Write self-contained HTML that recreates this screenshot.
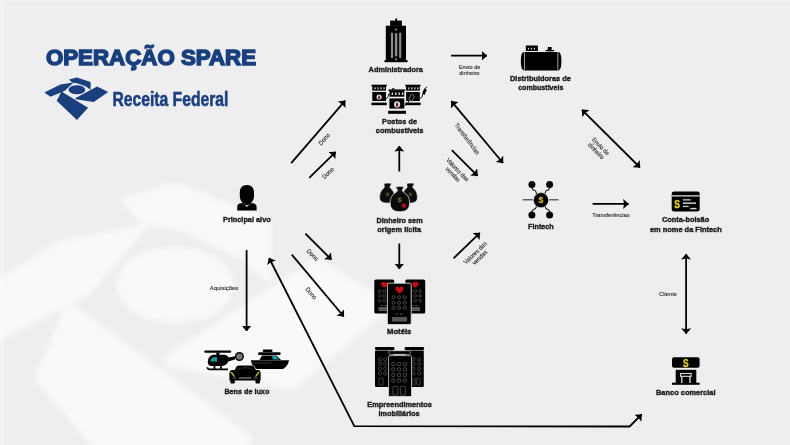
<!DOCTYPE html>
<html><head><meta charset="utf-8">
<style>
html,body{margin:0;padding:0;width:790px;height:445px;overflow:hidden;background:#eeeef0;}
svg{position:absolute;left:0;top:0;will-change:transform;}
text{font-family:"Liberation Sans",sans-serif;}
.b{font-weight:bold;fill:#1e1e1e;stroke:#1e1e1e;stroke-width:0.42px;font-size:7.9px;}
.s{fill:#2a2a2a;stroke:#2a2a2a;stroke-width:0.12px;font-size:6.2px;}
</style></head><body>
<svg width="790" height="445" viewBox="0 0 790 445">
<defs>
<marker id="ah" viewBox="0 0 5.8 10" refX="5.5" refY="5" markerWidth="5.8" markerHeight="10" orient="auto-start-reverse" markerUnits="userSpaceOnUse">
<path d="M0,0 L5.8,5 L0,10 L0.9,5 z" fill="#000"/>
</marker>
</defs>
<!-- watermark -->
<filter id="blur" x="-20%" y="-20%" width="140%" height="140%"><feGaussianBlur stdDeviation="2.5"/></filter>
<g id="wm" fill="#ffffff" opacity="0.62" filter="url(#blur)">
<g transform="translate(175.5,285) scale(7,8.5) translate(-76.9,-89.7)">
<polygon points="44.3,92.6 60.5,84.4 73.5,82.4 64.5,90.9 50.5,96.7"/>
<polygon points="69,79.6 76.9,77.6 90.6,82.1 90.6,89.7 86,86.5 78,83.5 72,82.5"/>
<ellipse cx="76.9" cy="89.7" rx="8.4" ry="4.5"/>
<polygon points="75.2,98.2 97.1,86.4 108.3,92 93.7,102.1 75.7,99.3"/>
<polygon points="56.7,100.7 61.5,91.5 88.1,107.7 76.9,120.1"/>
</g>
</g>

<rect x="1.2" y="0" width="2" height="445" fill="#fff" opacity="0.4"/>
<rect x="0" y="0" width="790" height="1.5" fill="#fff" opacity="0.25"/>
<!-- title -->
<text x="45.9" y="64.6" textLength="210.2" lengthAdjust="spacingAndGlyphs" style="font-family:'Liberation Sans';font-weight:bold;font-size:21.8px;fill:#193f7e;stroke:#193f7e;stroke-width:1.5px">OPERAÇÃO SPARE</text>
<text x="112.4" y="106" textLength="116" lengthAdjust="spacingAndGlyphs" style="font-family:'Liberation Sans';font-weight:bold;font-size:20.5px;fill:#193f7e;stroke:#193f7e;stroke-width:0.55px">Receita Federal</text>
<g fill="#193f7e">
<polygon points="44.3,92.6 60.5,84.4 73.5,82.4 64.5,90.9 50.5,96.7"/>
<polygon points="69,79.6 76.9,77.6 90.6,82.1 90.6,89.7 86,86.5 78,83.5 72,82.5"/>
<ellipse cx="76.9" cy="89.7" rx="8.4" ry="4.5"/>
<polygon points="75.2,98.2 97.1,86.4 108.3,92 93.7,102.1 75.7,99.3"/>
<polygon points="56.7,100.7 61.5,91.5 88.1,107.7 76.9,120.1"/>
</g>

<!-- labels -->
<text class="b" x="368.6" y="71.8" textLength="54.3" lengthAdjust="spacingAndGlyphs">Administradora</text>
<text class="b" x="382" y="124" textLength="35" lengthAdjust="spacingAndGlyphs">Postos de</text>
<text class="b" x="375.8" y="133.4" textLength="47.7" lengthAdjust="spacingAndGlyphs">combustíveis</text>
<text class="b" x="510" y="80.5" textLength="60.9" lengthAdjust="spacingAndGlyphs">Distribuidoras de</text>
<text class="b" x="518.2" y="90" textLength="45.2" lengthAdjust="spacingAndGlyphs">combustiveis</text>
<text class="b" x="223" y="222" textLength="47.7" lengthAdjust="spacingAndGlyphs">Principal alvo</text>
<text class="b" x="376.6" y="223.2" textLength="46" lengthAdjust="spacingAndGlyphs">Dinheiro sem</text>
<text class="b" x="377.3" y="232" textLength="43.8" lengthAdjust="spacingAndGlyphs">origem lícita</text>
<text class="b" x="528" y="229" textLength="25.8" lengthAdjust="spacingAndGlyphs">Fintech</text>
<text class="b" x="662" y="222" textLength="47.2" lengthAdjust="spacingAndGlyphs">Conta-bolsão</text>
<text class="b" x="649.9" y="232.3" textLength="71.9" lengthAdjust="spacingAndGlyphs">em nome da Fintech</text>
<text class="b" x="387" y="333.7" textLength="24.4" lengthAdjust="spacingAndGlyphs">Motéis</text>
<text class="b" x="367.2" y="406.9" textLength="64.7" lengthAdjust="spacingAndGlyphs">Empreendimentos</text>
<text class="b" x="378.4" y="415.8" textLength="41.3" lengthAdjust="spacingAndGlyphs">imobiliários</text>
<text class="b" x="224.4" y="394.4" textLength="44.9" lengthAdjust="spacingAndGlyphs">Bens de luxo</text>
<text class="b" x="656" y="395" textLength="59.5" lengthAdjust="spacingAndGlyphs">Banco comercial</text>

<text class="s" x="458.7" y="68.8" textLength="21.8" lengthAdjust="spacingAndGlyphs">Envio de</text>
<text class="s" x="459.2" y="75.4" textLength="20.3" lengthAdjust="spacingAndGlyphs">dinheiro</text>
<text class="s" x="592.2" y="216.9" textLength="37.4" lengthAdjust="spacingAndGlyphs">Transferências</text>
<text class="s" x="659.1" y="295.6" textLength="18" lengthAdjust="spacingAndGlyphs">Cliente</text>
<text class="s" x="209.8" y="290" textLength="28.5" lengthAdjust="spacingAndGlyphs">Aquisições</text>

<!-- arrows -->
<g stroke="#000" stroke-width="1.8" fill="none" marker-end="url(#ah)">
<line x1="451.1" y1="55.7" x2="487" y2="55.7"/>
<line x1="291.2" y1="163.1" x2="345.2" y2="100.7"/>
<line x1="309.2" y1="177.8" x2="335.7" y2="151.9"/>
<line x1="399.3" y1="171.5" x2="399.3" y2="146.1"/>
<line x1="399.3" y1="243.5" x2="399.3" y2="269"/>
<line x1="451.8" y1="150.2" x2="477.6" y2="175.8"/>
<line x1="453.6" y1="258.3" x2="479.9" y2="232.9"/>
<line x1="592.6" y1="203.9" x2="628.6" y2="203.9"/>
<line x1="305.4" y1="233.6" x2="331.4" y2="259.6"/>
<line x1="291.8" y1="254.6" x2="343.8" y2="316.5"/>
<line x1="246.6" y1="250.1" x2="246.6" y2="331"/>
</g>
<g stroke="#000" stroke-width="1.8" fill="none" marker-start="url(#ah)" marker-end="url(#ah)">
<line x1="451.3" y1="101.2" x2="503" y2="163"/>
<line x1="582" y1="109.8" x2="640" y2="167.5"/>
<line x1="686.1" y1="254" x2="686.1" y2="333.8"/>
<polyline points="269.1,258 354.3,426.2 629.6,426.5 641.7,414.4"/>
</g>

<!-- rotated labels -->
<text class="s" text-anchor="middle" transform="translate(325.8,140.5) rotate(-49) scale(0.92,1)">Dono</text>
<text class="s" text-anchor="middle" transform="translate(329.4,174.6) rotate(-44) scale(0.92,1)">Dono</text>
<text class="s" text-anchor="middle" transform="translate(465.4,140) rotate(53) scale(0.92,1)">Transferências</text>
<text class="s" text-anchor="middle" transform="translate(455,172.3) rotate(46) scale(0.92,1)"><tspan x="0" y="-1.5">Valores das</tspan><tspan x="0" y="5">vendas</tspan></text>
<text class="s" text-anchor="middle" transform="translate(477.8,255.4) rotate(-44) scale(0.92,1)"><tspan x="0" y="-1.5">Valores das</tspan><tspan x="0" y="5">vendas</tspan></text>
<text class="s" text-anchor="middle" transform="translate(598.2,148.9) rotate(45) scale(0.92,1)"><tspan x="0" y="-1.5">Envio de</tspan><tspan x="0" y="5">dinheiro</tspan></text>
<text class="s" text-anchor="middle" transform="translate(311.1,256.4) rotate(45) scale(0.92,1)">Dono</text>
<text class="s" text-anchor="middle" transform="translate(309.6,294.8) rotate(50) scale(0.92,1)">Dono</text>

<!-- icons -->
<g id="icons">
<!-- building Administradora -->
<g>
<rect x="395.4" y="18.4" width="1.7" height="2.6" fill="#000"/>
<rect x="390.1" y="20.6" width="11.8" height="5.3" fill="#000"/>
<rect x="385.8" y="25.7" width="20.2" height="35" fill="#000"/>
<rect x="384.5" y="60" width="23" height="2.2" fill="#000"/>
<rect x="390.9" y="32.4" width="2.2" height="25.8" rx="1" fill="#8a8a8a"/>
<rect x="394.9" y="33" width="2.4" height="23.5" rx="1" fill="#8a8a8a"/>
<rect x="399.1" y="32.4" width="2.2" height="25.8" rx="1" fill="#8a8a8a"/>
<circle cx="396.1" cy="29.6" r="1.1" fill="#8a8a8a"/>
<circle cx="396.1" cy="59.4" r="1.1" fill="#8a8a8a"/>
</g>
<!-- fuel pumps -->
<g>
<g id="pumpL">
<rect x="371.4" y="84.7" width="15.4" height="1.5" fill="#000"/>
<rect x="372.3" y="86" width="13.7" height="4.7" fill="#000"/>
<rect x="374.4" y="87.3" width="1.3" height="2.1" fill="#ccc"/><rect x="377.4" y="87.3" width="1.3" height="2.1" fill="#ccc"/><rect x="380.4" y="87.3" width="1.3" height="2.1" fill="#ccc"/><rect x="383.4" y="87.3" width="1.3" height="2.1" fill="#ccc"/>
<rect x="372.3" y="92" width="13.7" height="9" fill="#000"/>
<rect x="371.4" y="102.6" width="15.4" height="2.6" fill="#000"/>
</g>
<circle cx="379.1" cy="97.1" r="2.6" fill="#ddd"/>
<path d="M379.1,95.2 Q380.6,97.4 380.2,98.2 A1.1,1.1 0 0 1 378,98.2 Q377.6,97.4 379.1,95.2Z" fill="#8b1538"/>
<use href="#pumpL" transform="translate(33.8,0)"/>
<path d="M386,99 Q389,97 388.5,94" stroke="#000" stroke-width="0.9" fill="none"/>
<path d="M420,98.5 Q422.5,98 422.8,94" stroke="#000" stroke-width="0.9" fill="none"/>
<path d="M424.2,88.3 L426.8,89.8 L424.5,95 L422.2,93.6 Z" fill="#000"/>
<path d="M425,88.5 L427.2,87" stroke="#000" stroke-width="0.8"/>
<rect x="388.5" y="89.4" width="16.7" height="1.5" fill="#000"/>
<rect x="392" y="88.3" width="2.5" height="1.3" fill="#000"/>
<rect x="389.4" y="90.7" width="14.9" height="6" fill="#000"/>
<rect x="391.6" y="92.4" width="1.5" height="2.6" fill="#ccc"/><rect x="395" y="92.4" width="1.5" height="2.6" fill="#ccc"/><rect x="398.4" y="92.4" width="1.5" height="2.6" fill="#ccc"/><rect x="401.8" y="92.4" width="1.5" height="2.6" fill="#ccc"/>
<rect x="389.4" y="98.4" width="14.9" height="10.2" fill="#000"/>
<circle cx="397.1" cy="104.4" r="3.1" fill="#ddd"/>
<path d="M397.1,102.1 Q398.9,104.7 398.4,105.7 A1.4,1.4 0 0 1 395.8,105.7 Q395.3,104.7 397.1,102.1Z" fill="#8b1538"/>
<rect x="388.1" y="110.8" width="17.9" height="3" fill="#000"/>
<path d="M404.5,105.5 Q407,105 409,101" stroke="#000" stroke-width="1" fill="none"/>
<path d="M411.5,94 L414.5,96 L411.5,101.5 L408.8,99.8 Z" fill="#000" stroke="#e5e5e5" stroke-width="0.5"/>
<path d="M412,94.5 L414,92.5" stroke="#000" stroke-width="0.8"/>
</g>
<!-- tank -->
<g>
<rect x="525.8" y="45.6" width="12.1" height="5.4" rx="0.6" fill="#000"/>
<rect x="528" y="47.8" width="1.2" height="1.8" fill="#ccc"/><rect x="530.9" y="47.8" width="1.2" height="1.8" fill="#ccc"/><rect x="533.8" y="47.8" width="1.2" height="1.8" fill="#ccc"/>
<rect x="547.7" y="47" width="4" height="3" rx="0.6" fill="#000"/>
<ellipse cx="549.9" cy="50.6" rx="4.7" ry="0.9" fill="#000"/>
<path d="M524,52.1 L558.2,52.1 Q561.4,52.1 561.4,61.25 Q561.4,70.4 558.2,70.4 L524,70.4 Q520.8,70.4 520.8,61.25 Q520.8,52.1 524,52.1Z" fill="#000"/>
<rect x="524" y="52.1" width="0.9" height="18.3" fill="#b0b0b0"/>
<rect x="557.4" y="52.1" width="0.9" height="18.3" fill="#b0b0b0"/>
</g>
<!-- person -->
<g fill="#000">
<path d="M246.9,185 C251.6,185 254,188 254,192.5 L254,196 C254,200.8 250.6,204.6 246.9,205.3 C243.2,204.6 239.8,200.8 239.8,196 L239.8,192.5 C239.8,188 242.2,185 246.9,185 Z"/>
<path d="M237.2,210.5 L237.2,206.8 C237.2,204.6 238.8,203.3 241,203.3 L243.3,203.3 L246.9,206.9 L250.5,203.3 L252.8,203.3 C255,203.3 256.6,204.6 256.6,206.8 L256.6,210.5 Z"/>
</g>
<!-- money bags -->
<g>
<g id="bag">
<path d="M384,183.6 Q387.8,182.6 391.6,183.6 L389.8,187 Q390,188 391,188.6 Q394.6,191.5 394.6,197.5 Q394.6,203.1 387.1,203.1 Q379.6,203.1 379.6,197.5 Q379.6,191.5 383.2,188.6 Q384.2,188 384.4,187 Z" fill="#0c0c0c" stroke="#eee" stroke-width="0.5"/>
<path d="M384.6,187.4 L389.6,187.4" stroke="#444" stroke-width="0.4"/>
<circle cx="387.6" cy="194.3" r="2.3" fill="#141414" stroke="#3a3a2a" stroke-width="0.3"/>
<text x="387.6" y="195.9" text-anchor="middle" style="font-size:4.3px;font-weight:bold;fill:#7c8a3a">$</text>
</g>
<use href="#bag" transform="translate(22.8,0)"/>
<path d="M395.6,186.8 Q399.8,185.8 404,186.8 L402.2,190.6 Q402.4,191.4 403.5,192 Q409.7,195.5 409.7,203 Q409.7,211.8 399.9,211.8 Q390.1,211.8 390.1,203 Q390.1,195.5 396.3,192 Q397.4,191.4 397.6,190.6 Z" fill="#0a0a0a" stroke="#eee" stroke-width="0.7"/>
<path d="M397.2,191.1 L402.6,191.1" stroke="#444" stroke-width="0.4"/>
<circle cx="399.7" cy="199.6" r="2.8" fill="#141414" stroke="#4a4028" stroke-width="0.35"/>
<text x="399.7" y="201.5" text-anchor="middle" style="font-size:5.2px;font-weight:bold;fill:#9c8a40">$</text>
<path d="M402,204 L403.5,203 L404.3,204.2 L406,203.5 L405.5,205.3 L407,206.2 L405.2,206.8 L405,208.2 L403.6,207.2 L402.2,207.8 L402.6,206.2 L401.3,205.3 Z" fill="#b8141f"/>
</g>
<!-- fintech -->
<g>
<g stroke="#111" stroke-width="1.1" fill="none">
<path d="M531.9,186 L532.2,188.6 Q532.5,190 534.2,190.3 Q535.8,190.6 536.2,192.3 L536.7,194"/>
<path d="M549.6,186 L549.3,188.6 Q549,190 547.3,190.3 Q545.7,190.6 545.3,192.3 L544.8,194"/>
<path d="M531.9,213.5 L532.2,210.9 Q532.5,209.5 534.2,209.2 Q535.8,208.9 536.2,207.2 L536.7,205.5"/>
<path d="M549.6,213.5 L549.3,210.9 Q549,209.5 547.3,209.2 Q545.7,208.9 545.3,207.2 L544.8,205.5"/>
</g>
<line x1="522.5" y1="199.8" x2="532.8" y2="199.8" stroke="#333" stroke-width="1.1"/>
<line x1="549.2" y1="199.8" x2="558.5" y2="199.8" stroke="#333" stroke-width="1.1"/>
<circle cx="531.9" cy="184.4" r="3.5" fill="#000"/>
<circle cx="549.6" cy="184.4" r="3.5" fill="#000"/>
<circle cx="531.9" cy="215.1" r="3.5" fill="#000"/>
<circle cx="549.6" cy="215.1" r="3.5" fill="#000"/>
<circle cx="541" cy="200.2" r="7.6" fill="#000" stroke="#eee" stroke-width="0.6"/>
<text x="538.6" y="203.4" textLength="4.9" lengthAdjust="spacingAndGlyphs" style="font-size:9.8px;font-weight:bold;fill:#d6c81e;stroke:#d6c81e;stroke-width:0.35px">S</text>
</g>
<!-- card -->
<g>
<rect x="671.7" y="191.4" width="28" height="20.2" rx="2.4" fill="#000"/>
<rect x="671.7" y="195.1" width="28" height="1.5" fill="#bdbdbd"/>
<text x="674.2" y="208.2" textLength="5.8" lengthAdjust="spacingAndGlyphs" style="font-size:11.6px;font-weight:bold;fill:#e2d020;stroke:#e2d020;stroke-width:0.4px">S</text>
<rect x="682.9" y="199.2" width="7.7" height="1.3" fill="#cfcfcf"/>
<rect x="682.9" y="202.4" width="13.1" height="1.5" fill="#cfcfcf"/>
<rect x="682.9" y="205.8" width="5.7" height="1.3" fill="#cfcfcf"/>
<rect x="690.3" y="207.9" width="6.1" height="1.4" fill="#cfcfcf"/>
</g>
<!-- bank -->
<g>
<rect x="672" y="357.3" width="27.6" height="10.5" rx="2" fill="#000"/>
<text x="683" y="366.9" textLength="5.6" lengthAdjust="spacingAndGlyphs" style="font-size:11.6px;font-weight:bold;fill:#e3cf24;stroke:#e3cf24;stroke-width:0.4px">S</text>
<rect x="675.7" y="369.8" width="20.6" height="13.3" fill="#000"/>
<rect x="672" y="382.7" width="27.6" height="2.1" fill="#000"/>
<path d="M681.8,383 L681.8,376.3 M690,383 L690,376.3" stroke="#ddd" stroke-width="1.3"/>
<rect x="680.6" y="373.5" width="10.6" height="2.8" fill="none" stroke="#ddd" stroke-width="1.1"/>
</g>
<!-- motels -->
<g>
<g id="motelSide">
<rect x="374.3" y="279.5" width="19.9" height="33.9" rx="1.5" fill="#000"/>
<path d="M381,283.4 Q381.2,282 382.7,282 Q384.3,282 384.3,283.2 Q384.3,282 385.9,282 Q387.5,282 387.6,283.4 Q387.6,285.3 384.3,287.8 Q381,285.3 381,283.4Z" fill="#c80c16"/>
<g fill="none" stroke="#6a6a6a" stroke-width="0.6">
<circle cx="379.6" cy="291.2" r="1.4"/><circle cx="384.3" cy="291.2" r="1.4"/><circle cx="389" cy="291.2" r="1.4"/>
<circle cx="379.6" cy="295.9" r="1.4"/><circle cx="384.3" cy="295.9" r="1.4"/><circle cx="389" cy="295.9" r="1.4"/>
<circle cx="379.6" cy="300.6" r="1.4"/><circle cx="384.3" cy="300.6" r="1.4"/><circle cx="389" cy="300.6" r="1.4"/>
</g>
<rect x="380.5" y="305" width="2.4" height="0.7" fill="#777"/><rect x="384.2" y="305" width="2.4" height="0.7" fill="#777"/>
<rect x="378.4" y="307" width="10.6" height="4.1" fill="#555"/>
</g>
<use href="#motelSide" transform="translate(31,0)"/>
<rect x="387.4" y="283.2" width="23.8" height="41.4" rx="1.5" fill="#000" stroke="#eee" stroke-width="0.8"/>
<path d="M395.4,288.2 Q395.6,286.5 397.5,286.5 Q399.4,286.5 399.5,288 Q399.6,286.5 401.5,286.5 Q403.6,286.5 403.6,288.2 Q403.6,290.8 399.5,293.5 Q395.4,290.8 395.4,288.2Z" fill="#c80c16"/>
<g fill="none" stroke="#7a7a7a" stroke-width="0.6">
<circle cx="393.6" cy="297.3" r="1.55"/><circle cx="399.1" cy="297.3" r="1.55"/><circle cx="404.7" cy="297.3" r="1.55"/>
<circle cx="393.6" cy="302.7" r="1.55"/><circle cx="399.1" cy="302.7" r="1.55"/><circle cx="404.7" cy="302.7" r="1.55"/>
<circle cx="393.6" cy="307.8" r="1.55"/><circle cx="399.1" cy="307.8" r="1.55"/><circle cx="404.7" cy="307.8" r="1.55"/>
</g>
<rect x="395.5" y="313.6" width="3" height="0.7" fill="#777"/><rect x="400" y="313.6" width="3" height="0.7" fill="#777"/>
<rect x="391.9" y="316.9" width="15.2" height="4.7" fill="#555"/>
</g>
<!-- buildings -->
<g>
<g id="bldSide">
<rect x="375" y="347" width="19.5" height="2.9" rx="1" fill="#000"/>
<rect x="375" y="350.5" width="18.3" height="36.5" rx="1" fill="#000"/>
<g fill="none" stroke="#6a6a6a" stroke-width="0.6">
<rect x="378.6" y="358" width="2.8" height="2.8" rx="0.8"/><rect x="383.7" y="358" width="2.8" height="2.8" rx="0.8"/>
<rect x="378.6" y="362.4" width="2.8" height="2.8" rx="0.8"/><rect x="383.7" y="362.4" width="2.8" height="2.8" rx="0.8"/>
<rect x="378.6" y="367.4" width="2.8" height="2.8" rx="0.8"/><rect x="383.7" y="367.4" width="2.8" height="2.8" rx="0.8"/>
<rect x="378.6" y="372" width="2.8" height="2.8" rx="0.8"/><rect x="383.7" y="372" width="2.8" height="2.8" rx="0.8"/>
<rect x="379" y="378.2" width="4.2" height="6.9" rx="0.8"/>
</g>
</g>
<rect x="404.6" y="347" width="19.5" height="2.9" rx="1" fill="#000"/>
<rect x="405.5" y="350.5" width="18.3" height="36.5" rx="1" fill="#000"/>
<g fill="none" stroke="#6a6a6a" stroke-width="0.6">
<rect x="412" y="358" width="2.8" height="2.8" rx="0.8"/><rect x="417.7" y="358" width="2.8" height="2.8" rx="0.8"/>
<rect x="412" y="362.4" width="2.8" height="2.8" rx="0.8"/><rect x="417.7" y="362.4" width="2.8" height="2.8" rx="0.8"/>
<rect x="412" y="367.4" width="2.8" height="2.8" rx="0.8"/><rect x="417.7" y="367.4" width="2.8" height="2.8" rx="0.8"/>
<rect x="412" y="372" width="2.8" height="2.8" rx="0.8"/><rect x="417.7" y="372" width="2.8" height="2.8" rx="0.8"/>
<rect x="412.3" y="378.2" width="2.8" height="6.9" rx="0.8"/><rect x="416.6" y="378.2" width="3.6" height="6.9" rx="0.8"/>
</g>
<rect x="388.9" y="350.8" width="21.4" height="3.5" rx="1" fill="#000" stroke="#e6e6e6" stroke-width="0.5"/>
<rect x="388.6" y="355.6" width="22.9" height="40.9" rx="1.2" fill="#000" stroke="#eee" stroke-width="0.7"/>
<rect x="392" y="354.7" width="15" height="0.6" fill="#888"/>
<g fill="none" stroke="#777" stroke-width="0.6">
<rect x="391.8" y="362.6" width="3.1" height="3.1" rx="0.8"/><rect x="397.6" y="362.6" width="3.1" height="3.1" rx="0.8"/><rect x="403.4" y="362.6" width="3.1" height="3.1" rx="0.8"/>
<rect x="391.8" y="367.9" width="3.1" height="3.1" rx="0.8"/><rect x="397.6" y="367.9" width="3.1" height="3.1" rx="0.8"/><rect x="403.4" y="367.9" width="3.1" height="3.1" rx="0.8"/>
<rect x="391.8" y="373.6" width="3.1" height="3.1" rx="0.8"/><rect x="397.6" y="373.6" width="3.1" height="3.1" rx="0.8"/><rect x="403.4" y="373.6" width="3.1" height="3.1" rx="0.8"/>
<rect x="391.8" y="379" width="3.1" height="3.1" rx="0.8"/><rect x="397.6" y="379" width="3.1" height="3.1" rx="0.8"/><rect x="403.4" y="379" width="3.1" height="3.1" rx="0.8"/>
<rect x="392.9" y="386.4" width="5" height="8.8" rx="1"/><rect x="400.4" y="386.4" width="5" height="8.8" rx="1"/>
</g>
</g>
<!-- helicopter -->
<g>
<rect x="204.3" y="350.6" width="26.9" height="2.1" rx="1" fill="#000"/>
<rect x="216.3" y="352.5" width="3.2" height="3" fill="#000"/>
<path d="M213,354.7 L225,354.7 Q228,355.6 228.6,357.6 L235,356.2 L235,359.4 L228.2,361.6 Q226.6,366 221,366 L211.5,366 Q207.8,366 207.8,362 Q207.8,356.2 213,354.7 Z" fill="#000"/>
<path d="M210.4,361.6 Q210.8,358 213.8,357.2 L217,356.9 L217,361.6 Z" fill="#169c9f"/>
<circle cx="239.4" cy="356.5" r="4.5" fill="#000"/>
<circle cx="239.4" cy="356.5" r="3.1" fill="#767676"/>
<path d="M207.2,367.2 Q207.8,369.4 210,369.4 L228,369.4" stroke="#000" stroke-width="1.6" fill="none"/>
<rect x="213.6" y="365" width="1.8" height="4" fill="#000"/><rect x="220" y="365" width="1.8" height="4" fill="#000"/>
</g>
<!-- yacht -->
<g>
<rect x="262.8" y="349.6" width="9.7" height="2.4" rx="1" fill="#000"/>
<rect x="258.1" y="352.2" width="22.6" height="2.9" rx="1.4" fill="#000"/>
<path d="M259.5,360 L262,355.5 L276.5,355.5 L281,360 Z" fill="#000"/>
<path d="M271.9,355.9 L276.2,355.9 L279,359.4 L273,359.4Z" fill="#169c9f"/>
<path d="M250.8,360.2 L289,360.2 Q288.2,366 283,369 L258,369 Q254,369 252,364.5 Z" fill="#000"/>
<path d="M251.5,363 L269.5,363 Q271.5,362.8 273,360.4" stroke="#777" stroke-width="0.45" fill="none"/>
</g>
<!-- car -->
<g>
<path d="M238.8,365.2 L251.8,365.2 Q253.8,365.2 254.6,367 L256.6,370.8 L234,370.8 L236,367 Q236.8,365.2 238.8,365.2Z" fill="#000" stroke="#f0f0f0" stroke-width="0.6"/>
<path d="M238.3,370.5 Q238.6,367.8 245.3,367.8 Q252,367.8 252.3,370.5" stroke="#555" stroke-width="0.5" fill="none"/>
<path d="M232.5,370 L258,370 Q260.6,370.2 260.6,373.5 L260.6,380.6 L229.4,380.6 L229.4,373.5 Q229.4,370.2 232.5,370Z" fill="#000"/>
<path d="M230.3,372.2 L231.9,372 L234.9,376.3 L234.1,377.1 Z" fill="#c9d62a"/>
<path d="M259.7,372.2 L258.1,372 L255.1,376.3 L255.9,377.1 Z" fill="#c9d62a"/>
<rect x="238.9" y="377.3" width="12.4" height="1.4" fill="#777"/>
<rect x="232.8" y="377.6" width="3.6" height="1" fill="#666"/><rect x="253.8" y="377.6" width="3.6" height="1" fill="#666"/>
<rect x="230.3" y="380" width="4.6" height="3.4" rx="0.8" fill="#000"/>
<rect x="255.4" y="380" width="4.6" height="3.4" rx="0.8" fill="#000"/>
</g>
</g>
</svg>
</body></html>
